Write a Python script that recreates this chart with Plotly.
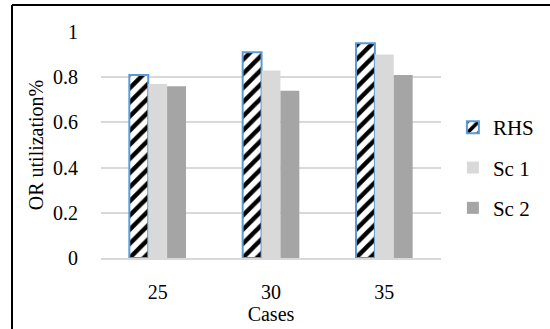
import plotly.graph_objects as go

cases = ["25", "30", "35"]
rhs = [0.81, 0.91, 0.95]
sc1 = [0.77, 0.83, 0.90]
sc2 = [0.76, 0.74, 0.81]
y_ticks = [0, 0.2, 0.4, 0.6, 0.8, 1]
y_tick_text = ["0", "0.2", "0.4", "0.6", "0.8", "1"]

FONT = "Liberation Serif"

fig = go.Figure()
fig.add_trace(go.Bar(
    name="RHS", x=cases, y=rhs, legendgroup="a",
    marker=dict(color="#ffffff",
                line=dict(color="#5b9bd5", width=2),
                pattern=dict(shape="/", fgcolor="#000000", bgcolor="#ffffff",
                             fgopacity=1, size=10, solidity=0.45)),
))
fig.add_trace(go.Bar(name="Sc 1", x=cases, y=sc1, legendgroup="b",
                     marker=dict(color="#d9d9d9", line=dict(width=0))))
fig.add_trace(go.Bar(name="Sc 2", x=cases, y=sc2, legendgroup="c",
                     marker=dict(color="#a5a5a5", line=dict(width=0))))

L, R, T, B = 101, 109, 32, 71
W, H = 550, 329
pw, ph = W - L - R, H - T - B

def px_x(x):
    return (x - L) / pw

def px_y(y):
    return 1 - (y - T) / ph

fig.update_layout(
    width=W, height=H,
    margin=dict(l=L, r=R, t=T, b=B, autoexpand=False),
    paper_bgcolor="white", plot_bgcolor="white",
    barmode="group", bargap=0.5, bargroupgap=0,
    font=dict(family=FONT, size=20, color="#000000"),
    showlegend=True,
    legend=dict(x=1.035, y=0.40, xanchor="left", yanchor="middle",
                font=dict(family=FONT, size=21), tracegroupgap=10,
                itemwidth=30, bgcolor="rgba(0,0,0,0)"),
    xaxis=dict(showgrid=False, showline=True, linecolor="#d9d9d9", linewidth=1.5,
               ticks="", ticklabelstandoff=15, automargin=False,
               tickfont=dict(family=FONT, size=20),
               title=dict(text="Cases", standoff=3,
                          font=dict(family=FONT, size=20))),
    yaxis=dict(range=[0, 1], tickvals=y_ticks, ticktext=y_tick_text,
               showgrid=True, gridcolor="#d9d9d9", gridwidth=1.5,
               zeroline=False, showline=False, ticks="", ticklabelstandoff=22,
               automargin=False,
               tickfont=dict(family=FONT, size=20),
               title=dict(text="OR utilization%", standoff=4,
                          font=dict(family=FONT, size=20))),
    shapes=[
        dict(type="line", xref="paper", yref="paper",
             x0=px_x(12), x1=px_x(560), y0=px_y(5), y1=px_y(5),
             line=dict(color="#000000", width=2)),
        dict(type="line", xref="paper", yref="paper",
             x0=px_x(12), x1=px_x(12), y0=px_y(5), y1=px_y(340),
             line=dict(color="#000000", width=2)),
    ],
)

fig.write_html("out.html")
